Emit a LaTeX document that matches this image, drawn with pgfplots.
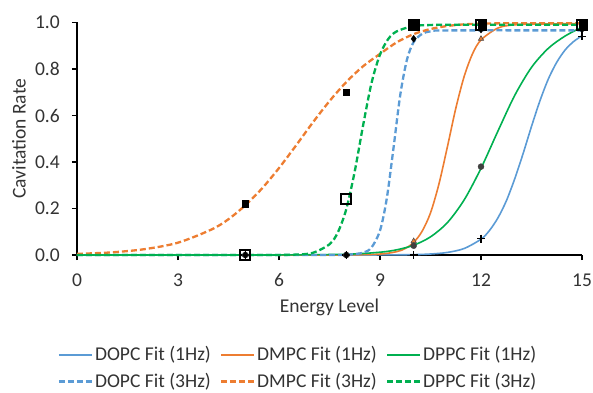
\documentclass[border=0pt]{standalone}
\usepackage{fontspec}
\setmainfont{Carlito}
\usepackage{pgfplots}
\pgfplotsset{compat=1.18}

\definecolor{fitblue}{HTML}{5B9BD5}
\definecolor{fitorange}{HTML}{ED7D31}
\definecolor{fitgreen}{HTML}{00B050}
\definecolor{txt}{HTML}{333333}

\begin{document}
\fontsize{19.6}{23.5}\selectfont
\begin{tikzpicture}
\useasboundingbox (-77bp,-138bp) rectangle (516bp,255bp);
\begin{axis}[
  scale only axis, width=505bp, height=232.5bp,
  xmin=0, xmax=15, ymin=0, ymax=1,
  clip=false,
  axis x line=bottom, axis y line=left,
  axis line style={-, line width=1.2bp, black},
  xtick={0,3,...,15}, ytick={0,0.2,0.4,0.6,0.8,1.0},
  tick align=outside, major tick length=5bp,
  tick style={line width=1.2bp, black},
  /pgf/number format/assume math mode=true,
  yticklabel style={/pgf/number format/.cd, fixed, fixed zerofill, precision=1, /tikz/.cd},
  ticklabel style={font=\fontsize{19.6}{23.5}\selectfont, text=txt},
  xticklabel style={anchor=base, yshift=-26bp},
  yticklabel style={anchor=east, inner xsep=0pt, xshift=-12bp},
  xlabel={Energy Level}, ylabel={Cavitation Rate},
  label style={font=\fontsize{19.6}{23.5}\selectfont, text=txt},
  xlabel style={at={(axis description cs:0.5,-0.2237)}, anchor=center},
  ylabel style={at={(axis description cs:-0.1149,0.5)}, anchor=center},
  legend columns=3,
  legend cell align=left,
  legend image code/.code={\draw[#1] (0bp,0bp) -- (33bp,0bp);},
  legend style={at={(0.4376,-0.4877)}, anchor=center, draw=none, fill=none,
    font=\fontsize{19.6}{23.5}\selectfont, text=txt,
    nodes={inner sep=2bp}, row sep=5bp,
    /tikz/every even column/.append style={column sep=7bp}},
  solidfit/.style={line width=1.6bp, smooth, no markers},
  dashfit/.style={line width=2.3bp, smooth, no markers, dash pattern=on 6bp off 3bp},
]
% logistic fits, 1 Hz
\addplot[solidfit, fitblue] coordinates {
  (0,0) (4,0) (8,0.0001) (9,0.0003) (10,0.0017) (10.5,0.0043) (11,0.011)
  (11.5,0.028) (12,0.068) (12.25,0.105) (12.5,0.159) (12.75,0.232) (13,0.327)
  (13.25,0.436) (13.5,0.553) (13.75,0.663) (14,0.757) (14.25,0.829)
  (14.5,0.882) (14.75,0.918) (15,0.943)};
\addlegendentry{DOPC Fit (1Hz)}
\addplot[solidfit, fitorange] coordinates {
  (0,0) (6,0) (8,0.0003) (9,0.004) (9.5,0.0145) (9.75,0.028) (10,0.054)
  (10.25,0.102) (10.5,0.181) (10.75,0.305) (11,0.464) (11.25,0.630)
  (11.5,0.768) (11.75,0.866) (12,0.925) (12.5,0.976) (13,0.990) (14,0.994)
  (15,0.995)};
\addlegendentry{DMPC Fit (1Hz)}
\addplot[solidfit, fitgreen] coordinates {
  (0,0) (4,0) (6,0.0002) (8,0.0033) (9,0.012) (9.5,0.0225) (10,0.042)
  (10.5,0.078) (11,0.139) (11.5,0.237) (12,0.373) (12.5,0.532) (13,0.686)
  (13.5,0.807) (14,0.889) (14.5,0.942) (15,0.98)};
\addlegendentry{DPPC Fit (1Hz)}
% logistic fits, 3 Hz
\addplot[dashfit, fitblue] coordinates {
  (0,0) (6,0) (7.5,0.0001) (8,0.0008) (8.5,0.0097) (8.75,0.033) (9,0.105)
  (9.2,0.242) (9.4,0.459) (9.6,0.687) (9.8,0.840) (10,0.916) (10.25,0.951)
  (10.5,0.962) (11,0.966) (15,0.966)};
\addlegendentry{DOPC Fit (3Hz)}
\addplot[dashfit, fitorange] coordinates {
  (0,0.005) (1,0.011) (2,0.025) (3,0.053) (4,0.110) (4.5,0.154) (5,0.214)
  (5.5,0.287) (6,0.374) (6.5,0.470) (7,0.569) (7.5,0.662) (8,0.744)
  (8.5,0.812) (9,0.865) (9.5,0.915) (10,0.950) (10.5,0.972) (11,0.985)
  (11.5,0.992) (12,0.995) (13,0.997) (15,0.997)};
\addlegendentry{DMPC Fit (3Hz)}
\addplot[dashfit, fitgreen] coordinates {
  (0,0) (5,0) (6,0.0003) (6.5,0.0018) (7,0.009) (7.5,0.046) (7.75,0.098)
  (8,0.198) (8.25,0.36) (8.5,0.559) (8.75,0.741) (9,0.862) (9.25,0.930)
  (9.5,0.962) (10,0.985) (10.5,0.989) (11,0.99) (15,0.99)};
\addlegendentry{DPPC Fit (3Hz)}

% measured cavitation rates
\addplot[forget plot, only marks, mark=+, mark size=4bp, line width=1.3bp, black]
  coordinates {(5,0) (8,0) (10,0) (12,0.07) (15,0.94)};
\addplot[forget plot, only marks, mark=triangle*, mark size=3bp,
  mark options={fill=fitorange, draw=black!70, line width=0.6bp}]
  coordinates {(5,0) (8,0) (10,0.06) (12,0.93) (15,0.99)};
\addplot[forget plot, only marks, mark=*, mark size=3bp,
  mark options={fill=black!75, draw=black!75}]
  coordinates {(5,0) (8,0) (10,0.04) (12,0.38) (15,0.99)};
\addplot[forget plot, only marks, mark=diamond*, mark size=3.5bp,
  mark options={fill=black, draw=black}]
  coordinates {(5,0) (8,0) (10,0.93) (12,0.97) (15,0.97)};
\addplot[forget plot, only marks, mark=square*, mark size=3.2bp,
  mark options={fill=black, draw=black}]
  coordinates {(5,0.22) (8,0.70) (10,0.99) (12,0.99) (15,0.99)};
\addplot[forget plot, only marks, mark=square, mark size=5bp,
  mark options={draw=black, line width=2bp}]
  coordinates {(5,0) (8,0.24) (10,0.99) (12,0.99) (15,0.99)};
\end{axis}
\end{tikzpicture}
\end{document}
